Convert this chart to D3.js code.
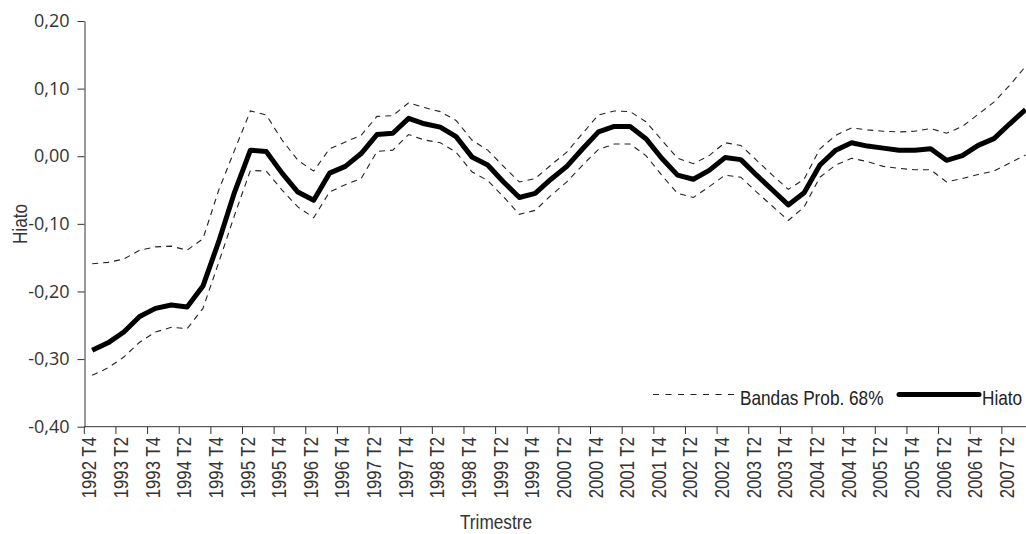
<!DOCTYPE html>
<html><head><meta charset="utf-8">
<script src="https://cdn.jsdelivr.net/npm/d3@7"></script>
<style>
html,body{margin:0;padding:0;background:#fff;}
svg{display:block;}
</style></head>
<body>
<svg id="c" width="1026" height="534"></svg>
<script>
const quarters = [
"1992 T4","1993 T1","1993 T2","1993 T3","1993 T4","1994 T1","1994 T2","1994 T3","1994 T4",
"1995 T1","1995 T2","1995 T3","1995 T4","1996 T1","1996 T2","1996 T3","1996 T4",
"1997 T1","1997 T2","1997 T3","1997 T4","1998 T1","1998 T2","1998 T3","1998 T4",
"1999 T1","1999 T2","1999 T3","1999 T4","2000 T1","2000 T2","2000 T3","2000 T4",
"2001 T1","2001 T2","2001 T3","2001 T4","2002 T1","2002 T2","2002 T3","2002 T4",
"2003 T1","2003 T2","2003 T3","2003 T4","2004 T1","2004 T2","2004 T3","2004 T4",
"2005 T1","2005 T2","2005 T3","2005 T4","2006 T1","2006 T2","2006 T3","2006 T4",
"2007 T1","2007 T2","2007 T3"];

const hiato = [-0.287,-0.276,-0.260,-0.237,-0.225,-0.220,-0.223,-0.192,-0.126,-0.053,
 0.009,0.007,-0.025,-0.053,-0.065,-0.025,-0.015,0.004,0.032,0.034,
 0.056,0.048,0.043,0.029,-0.001,-0.013,-0.038,-0.061,-0.055,-0.034,
 -0.015,0.011,0.036,0.044,0.044,0.026,-0.003,-0.028,-0.034,-0.021,
 -0.002,-0.005,-0.028,-0.050,-0.072,-0.054,-0.013,0.009,0.020,0.015,
 0.012,0.009,0.009,0.011,-0.006,0.001,0.016,0.026,0.048,0.069];

const bandaSup = [-0.159,-0.157,-0.152,-0.139,-0.134,-0.133,-0.139,-0.122,-0.050,0.009,
 0.067,0.061,0.024,-0.006,-0.022,0.011,0.021,0.031,0.059,0.060,
 0.079,0.072,0.066,0.053,0.024,0.009,-0.015,-0.038,-0.033,-0.013,
 0.006,0.034,0.061,0.067,0.066,0.051,0.024,-0.003,-0.011,0.001,
 0.020,0.016,-0.006,-0.028,-0.049,-0.034,0.011,0.031,0.042,0.039,
 0.037,0.036,0.037,0.041,0.034,0.044,0.062,0.080,0.105,0.133];

const bandaInf = [-0.324,-0.313,-0.297,-0.275,-0.260,-0.253,-0.255,-0.225,-0.157,-0.087,
 -0.021,-0.022,-0.050,-0.075,-0.091,-0.053,-0.042,-0.033,0.007,0.009,
 0.032,0.024,0.020,0.006,-0.023,-0.036,-0.060,-0.086,-0.080,-0.058,
 -0.038,-0.013,0.010,0.018,0.018,0.001,-0.028,-0.055,-0.061,-0.045,
 -0.028,-0.031,-0.053,-0.074,-0.095,-0.075,-0.031,-0.013,-0.003,-0.008,
 -0.015,-0.018,-0.020,-0.020,-0.038,-0.033,-0.027,-0.022,-0.010,0.002];

const yTicks = [0.20,0.10,0.00,-0.10,-0.20,-0.30,-0.40];
const xTickLabels = quarters.filter((q,i)=>i%2===0);

const svg = d3.select("#c");
const cond = "'Liberation Sans',Arial,sans-serif";
const squeeze = "scale(0.82,1)";
const reg = "'Open Sans','Segoe UI','DejaVu Sans',sans-serif";

const x = d3.scaleBand().domain(quarters).range([84.3, 84.3 + 60*15.82]).padding(0);
const y = d3.scaleLinear().domain([-0.4, 0.2]).range([426.7, 21]);
const cx = q => x(q) + x.bandwidth()/2;

// Y axis
const yAxis = d3.axisLeft(y).tickValues(yTicks).tickSizeInner(7).tickSizeOuter(0).tickPadding(8)
  .tickFormat(d => d3.format(".2f")(d).replace(".", ",").replace("−","-"));
const gy = svg.append("g").attr("transform","translate(84.5,0)").call(yAxis);
gy.select(".domain").attr("stroke","#333");
gy.selectAll(".tick line").attr("stroke","#333");
gy.selectAll(".tick text").attr("font-family",reg).attr("font-size","18px").attr("fill","#333");

// X axis
const gx = svg.append("g");
gx.append("line").attr("x1",84.5).attr("x2",1026).attr("y1",426.7).attr("y2",426.7).attr("stroke","#333");
gx.selectAll("line.tk").data(xTickLabels).enter().append("line").attr("class","tk")
  .attr("x1",d=>x(d)).attr("x2",d=>x(d)).attr("y1",426.7).attr("y2",434).attr("stroke","#333");
gx.selectAll("text").data(xTickLabels).enter().append("text")
  .attr("transform",d=>`translate(${x(d)+12},437) rotate(-90) ${squeeze}`)
  .attr("text-anchor","end").attr("font-family",cond).attr("font-size","20.5px").attr("fill","#333")
  .text(d=>d);

// Titles
svg.append("text").attr("transform",`translate(496,529) ${squeeze}`).attr("text-anchor","middle")
  .attr("font-family",cond).attr("font-size","21px").attr("fill","#333").text("Trimestre");
svg.append("text").attr("transform",`translate(26.5,224) rotate(-90) ${squeeze}`).attr("text-anchor","middle")
  .attr("font-family",cond).attr("font-size","21px").attr("fill","#333").text("Hiato");

// Lines
const line = d3.line().x((d,i)=>cx(quarters[i])).y(d=>y(d));
svg.append("path").datum(bandaSup).attr("d",line).attr("fill","none")
  .attr("stroke","#222").attr("stroke-width",1.1).attr("stroke-dasharray","6,5");
svg.append("path").datum(bandaInf).attr("d",line).attr("fill","none")
  .attr("stroke","#222").attr("stroke-width",1.1).attr("stroke-dasharray","6,5");
svg.append("path").datum(hiato).attr("d",line).attr("fill","none")
  .attr("stroke","#000").attr("stroke-width",5).attr("stroke-linejoin","round");

// Legend
const lg = svg.append("g");
lg.append("line").attr("x1",653).attr("x2",737).attr("y1",394.5).attr("y2",394.5)
  .attr("stroke","#222").attr("stroke-width",1.1).attr("stroke-dasharray","6,6.5");
lg.append("text").attr("transform",`translate(740,405) ${squeeze}`).attr("font-family",cond).attr("font-size","21px")
  .attr("fill","#222").text("Bandas Prob. 68%");
lg.append("line").attr("x1",899).attr("x2",979).attr("y1",394.5).attr("y2",394.5)
  .attr("stroke","#000").attr("stroke-width",5).attr("stroke-linecap","round");
lg.append("text").attr("transform",`translate(982,405) ${squeeze}`).attr("font-family",cond).attr("font-size","21px")
  .attr("fill","#222").text("Hiato");
</script>
</body></html>
